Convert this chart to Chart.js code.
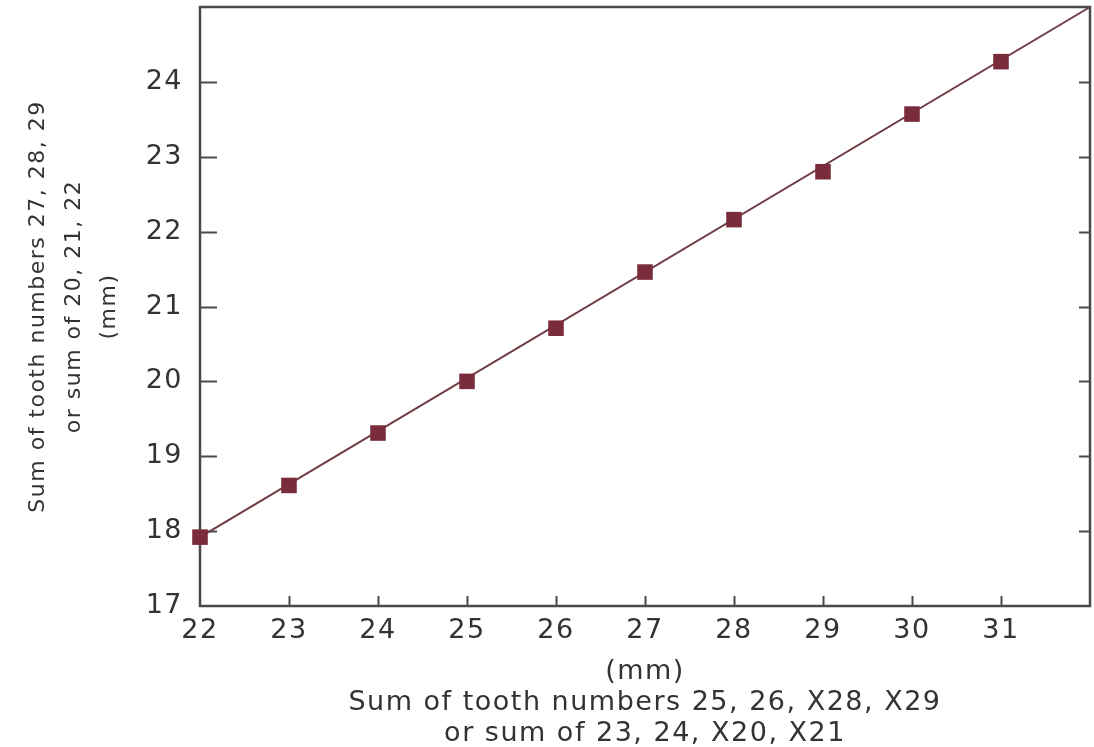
<!DOCTYPE html>
<html>
<head>
<meta charset="utf-8">
<script src="https://cdn.jsdelivr.net/npm/chart.js@4"></script>
<style>
html,body{margin:0;padding:0;background:#fff;}
#wrap{width:1094px;height:747px;}
</style>
</head>
<body>
<div id="wrap"><canvas id="c" width="1094" height="747"></canvas></div>
<script>
const xValues = [22, 23, 24, 25, 26, 27, 28, 29, 30, 31];
const yValues = [17.92, 18.61, 19.31, 20.0, 20.71, 21.46, 22.16, 22.8, 23.57, 24.27];
const lineX = [22, 32];
const lineY = [17.92, 25.0];
const xTitle = ['(mm)', 'Sum of tooth numbers 25, 26, X28, X29', 'or sum of 23, 24, X20, X21'];
const yTitle = ['Sum of tooth numbers 27, 28, 29', 'or sum of 20, 21, 22', '(mm)'];

const textColor = '#333333';
const axisColor = '#4a4a4a';
const markColor = '#7a2c3c';
const FONT = "'DejaVu Sans'";
const SPACING = '1.5px';

const spacing = {
  id: 'spacing',
  beforeLayout(chart) { chart.ctx.letterSpacing = SPACING; },
  beforeDraw(chart) { chart.ctx.letterSpacing = SPACING; }
};

const frame = {
  id: 'frame',
  beforeDatasetsDraw(chart) {
    const {ctx, chartArea: a, scales: {x, y}} = chart;
    ctx.save();
    ctx.strokeStyle = axisColor;
    ctx.lineWidth = 2.5;
    ctx.strokeRect(a.left, a.top, a.right - a.left, a.bottom - a.top);
    ctx.lineWidth = 2;
    ctx.beginPath();
    y.ticks.forEach(t => {
      if (t.value > y.min && t.value < y.max) {
        const py = Math.round(y.getPixelForValue(t.value)) + 0.5;
        ctx.moveTo(a.left, py); ctx.lineTo(a.left + 17, py);
        ctx.moveTo(a.right - 11, py); ctx.lineTo(a.right, py);
      }
    });
    x.ticks.forEach(t => {
      if (t.value > x.min && t.value < x.max) {
        const px = Math.round(x.getPixelForValue(t.value)) + 0.5;
        ctx.moveTo(px, a.bottom); ctx.lineTo(px, a.bottom - 10);
      }
    });
    ctx.stroke();
    ctx.restore();
  }
};

new Chart(document.getElementById('c'), {
  type: 'scatter',
  data: {
    datasets: [
      {
        label: 'fit',
        data: lineX.map((v, i) => ({x: v, y: lineY[i]})),
        showLine: true,
        borderColor: '#6e3a42',
        borderWidth: 2,
        pointRadius: 0,
        order: 2
      },
      {
        label: 'points',
        data: xValues.map((v, i) => ({x: v, y: yValues[i]})),
        pointStyle: 'rect',
        pointRadius: 11,
        backgroundColor: markColor,
        borderColor: markColor,
        borderWidth: 0,
        order: 1
      }
    ]
  },
  options: {
    responsive: false,
    animation: false,
    clip: false,
    layout: {autoPadding: false, padding: {top: 7, right: 4, bottom: 0, left: 0}},
    plugins: {legend: {display: false}, tooltip: {enabled: false}},
    scales: {
      x: {
        type: 'linear',
        min: 22, max: 32,
        grid: {display: false},
        border: {display: false},
        afterBuildTicks: s => { s.ticks = s.ticks.filter(t => t.value < 32); },
        ticks: {
          stepSize: 1,
          color: textColor,
          font: {family: FONT, size: 27},
          padding: 1,
          maxRotation: 0
        },
        title: {
          display: true,
          text: xTitle,
          color: textColor,
          font: {family: FONT, size: 27, lineHeight: 1.15},
          padding: {top: 0, bottom: -3}
        },
        afterFit: s => { s.height = 141; s.paddingLeft = 0; s.paddingRight = 0; }
      },
      y: {
        type: 'linear',
        min: 17, max: 25,
        grid: {display: false},
        border: {display: false},
        afterBuildTicks: s => { s.ticks = s.ticks.filter(t => t.value < 25); },
        ticks: {
          stepSize: 1,
          color: textColor,
          font: {family: FONT, size: 27},
          padding: 9
        },
        title: {
          display: true,
          text: yTitle,
          color: textColor,
          font: {family: FONT, size: 22, lineHeight: 1.6},
          padding: {top: 21, bottom: 0}
        },
        afterFit: s => { s.width = 200; s.paddingTop = 0; s.paddingBottom = 0; }
      }
    }
  },
  plugins: [spacing, frame]
});
</script>
</body>
</html>
